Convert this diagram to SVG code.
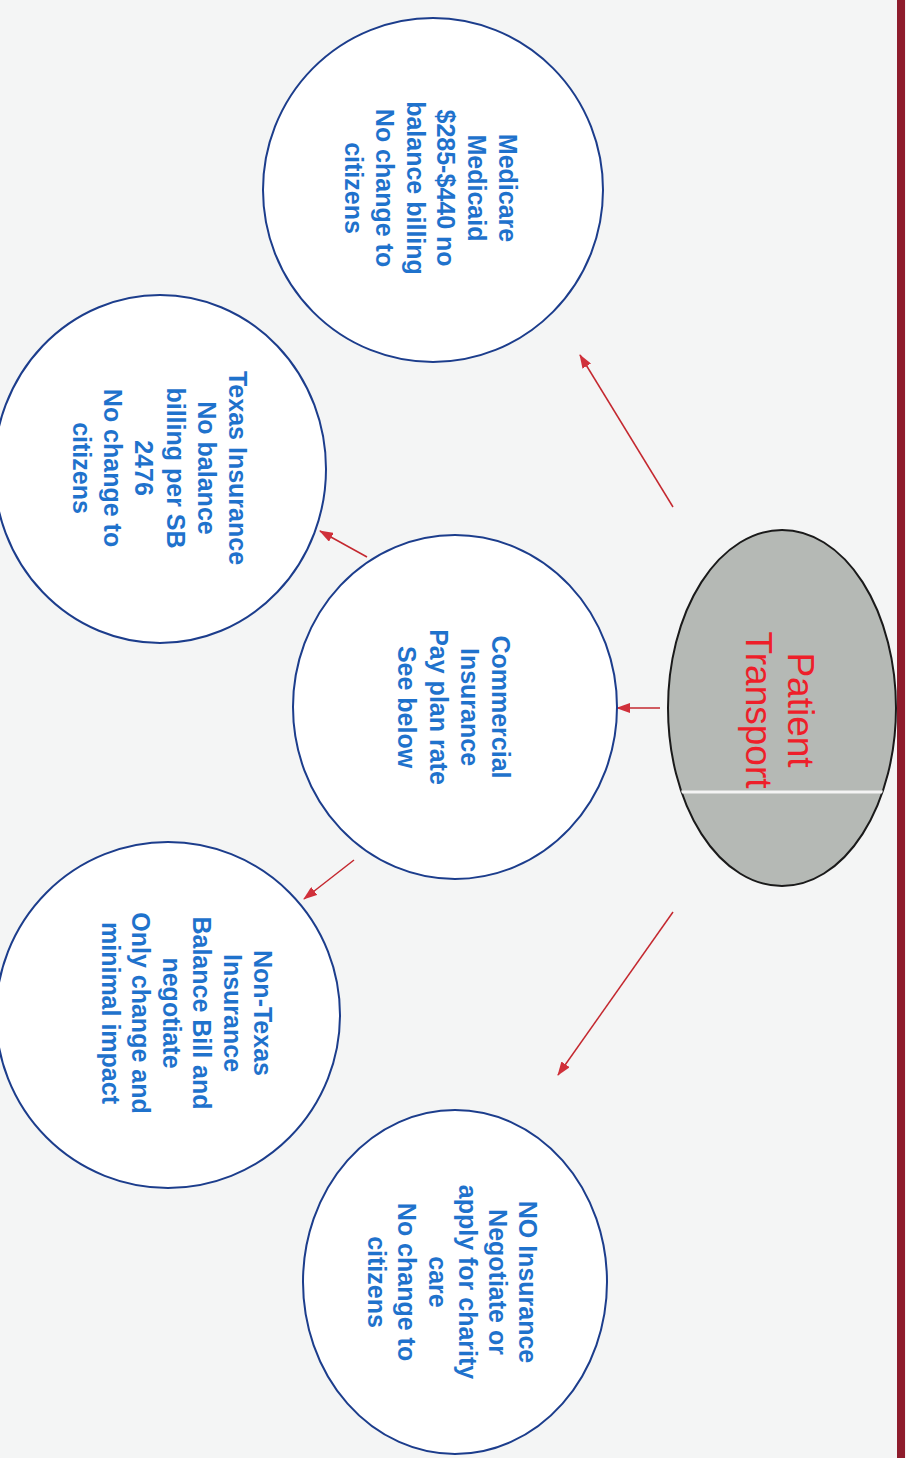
<svg xmlns="http://www.w3.org/2000/svg" width="906" height="1458" viewBox="0 0 906 1458">
<style>
.bub{fill:#ffffff;stroke:#1c3d8c;stroke-width:2}
.lbl{font-family:"Liberation Sans",Arial,sans-serif;font-weight:bold;font-size:25px;fill:#1f72cc;text-anchor:middle}
.hub{font-family:"Liberation Sans",Arial,sans-serif;font-size:37px;fill:#ee1f2a;text-anchor:middle}
.con{stroke:#c4282f;stroke-width:1.5;fill:none}
</style>
<defs>
<marker id="ah" markerWidth="14" markerHeight="10" refX="13" refY="5" orient="auto" markerUnits="userSpaceOnUse">
<path d="M0,0 L14,5 L0,10 Z" fill="#d0303a"/>
</marker>
<clipPath id="hubclip"><ellipse cx="782" cy="708" rx="114" ry="178"/></clipPath>
</defs>
<rect x="0" y="0" width="906" height="1458" fill="#f4f5f5"/>
<rect x="897" y="0" width="8" height="1458" fill="#8e1c2c"/>

<g id="connectors">
<line class="con" x1="673" y1="507" x2="580" y2="355" marker-end="url(#ah)"/>
<line class="con" x1="660" y1="708" x2="617" y2="708" marker-end="url(#ah)"/>
<line class="con" x1="367" y1="557" x2="320" y2="531" marker-end="url(#ah)"/>
<line class="con" x1="354" y1="860" x2="304" y2="899" marker-end="url(#ah)"/>
<line class="con" x1="673" y1="912" x2="558" y2="1075" marker-end="url(#ah)"/>
</g>

<g id="patient-transport">
<ellipse cx="782" cy="708" rx="114" ry="178" fill="#b5b9b5" stroke="#1a1a1a" stroke-width="2"/>
<line x1="660" y1="792" x2="900" y2="792" stroke="#f4f4f4" stroke-width="3" clip-path="url(#hubclip)"/>
<g transform="translate(782,710) rotate(90)">
<text class="hub" x="0" y="-6">Patient</text>
<text class="hub" x="0" y="36">Transport</text>
</g>
</g>

<g id="medicare">
<ellipse class="bub" cx="433" cy="190" rx="170" ry="172"/>
<g transform="translate(433,188) rotate(90)">
<text class="lbl" x="0" y="-66">Medicare</text>
<text class="lbl" x="0" y="-35">Medicaid</text>
<text class="lbl" x="0" y="-4">$285-$440 no</text>
<text class="lbl" x="0" y="26">balance billing</text>
<text class="lbl" x="0" y="57">No change to</text>
<text class="lbl" x="0" y="88">citizens</text>
</g>
</g>

<g id="texas">
<ellipse class="bub" cx="160" cy="469" rx="166" ry="174"/>
<g transform="translate(160,468) rotate(90)">
<text class="lbl" x="0" y="-69">Texas Insurance</text>
<text class="lbl" x="0" y="-38">No balance</text>
<text class="lbl" x="0" y="-7">billing per SB</text>
<text class="lbl" x="0" y="25">2476</text>
<text class="lbl" x="0" y="56">No change to</text>
<text class="lbl" x="0" y="87">citizens</text>
</g>
</g>

<g id="commercial">
<ellipse class="bub" cx="455" cy="707" rx="162" ry="172"/>
<g transform="translate(455,707) rotate(90)">
<text class="lbl" x="0" y="-37">Commercial</text>
<text class="lbl" x="0" y="-6">Insurance</text>
<text class="lbl" x="0" y="25">Pay plan rate</text>
<text class="lbl" x="0" y="57">See below</text>
</g>
</g>

<g id="non-texas">
<ellipse class="bub" cx="168" cy="1015" rx="172" ry="173"/>
<g transform="translate(170,1013) rotate(90)">
<text class="lbl" x="0" y="-84">Non-Texas</text>
<text class="lbl" x="0" y="-53.5">Insurance</text>
<text class="lbl" x="0" y="-23">Balance Bill and</text>
<text class="lbl" x="0" y="7.5">negotiate</text>
<text class="lbl" x="0" y="38">Only change and</text>
<text class="lbl" x="0" y="68.5">minimal impact</text>
</g>
</g>

<g id="no-insurance">
<ellipse class="bub" cx="455" cy="1282" rx="152" ry="172"/>
<g transform="translate(455,1282) rotate(90)">
<text class="lbl" x="0" y="-64">NO Insurance</text>
<text class="lbl" x="0" y="-34">Negotiate or</text>
<text class="lbl" x="0" y="-4">apply for charity</text>
<text class="lbl" x="0" y="26">care</text>
<text class="lbl" x="0" y="57">No change to</text>
<text class="lbl" x="0" y="87">citizens</text>
</g>
</g>
</svg>
